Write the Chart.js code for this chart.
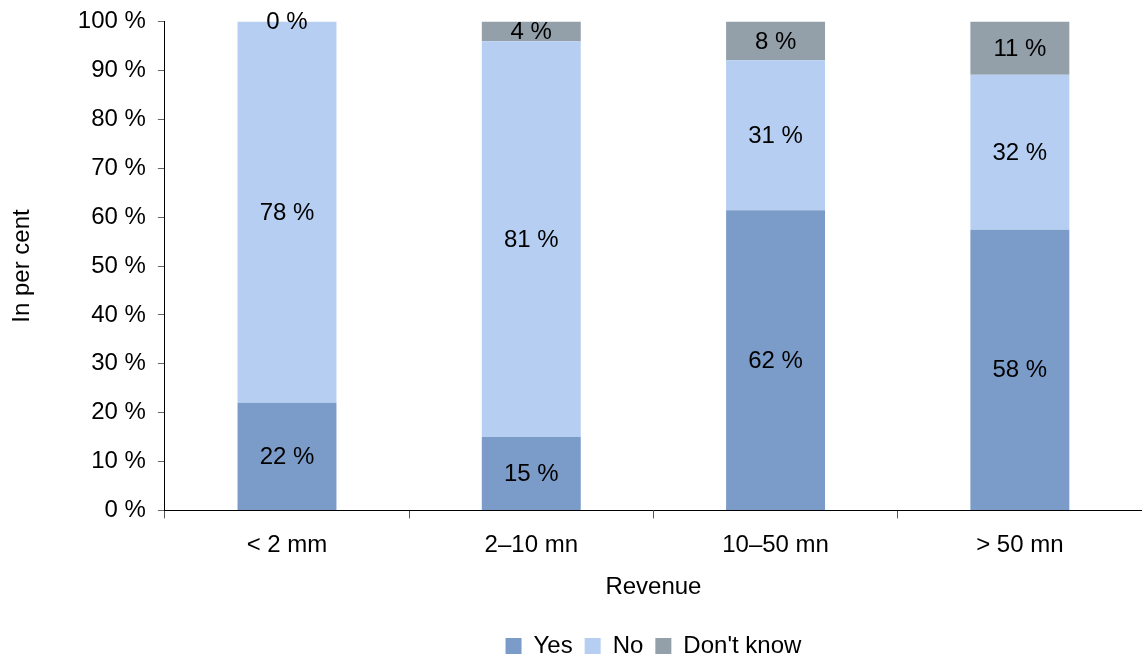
<!DOCTYPE html>
<html>
<head>
<meta charset="utf-8">
<script src="https://cdn.jsdelivr.net/npm/chart.js@4"></script>
<style>
  html, body { margin: 0; padding: 0; background: #fff; }
  #wrap { width: 1142px; height: 659px; }
</style>
</head>
<body>
<div id="wrap"><canvas id="stackChart"></canvas></div>
<script>
const categories = ["< 2 mm", "2\u201310 mn", "10\u201350 mn", "> 50 mn"]
// survey answers as printed on the bars (rounded, so some columns add up to 101)
const yesValues = [22, 15, 62, 58]
const noValues = [78, 81, 31, 32]
const dontKnowValues = [0, 4, 8, 11]
const yTicks = [0, 10, 20, 30, 40, 50, 60, 70, 80, 90, 100]

const FONT = "'Liberation Sans', Arial, sans-serif"
const FS = 24

// 100 % stacked: each column is scaled to its own total
const totals = categories.map((c, i) => yesValues[i] + noValues[i] + dontKnowValues[i])
const share = arr => arr.map((v, i) => v / totals[i] * 100)

const ctx = document.getElementById("stackChart").getContext("2d")

const segmentLabels = {
    id: 'segmentLabels',
    afterDatasetsDraw(chart) {
        const c = chart.ctx
        c.save()
        c.font = FS + "px " + FONT
        c.fillStyle = "#000"
        c.textAlign = "center"
        c.textBaseline = "middle"
        chart.data.datasets.forEach((ds, di) => {
            chart.getDatasetMeta(di).data.forEach((bar, i) => {
                const p = bar.getProps(['x', 'y', 'base'], true)
                c.fillText(ds.raw[i] + " %", p.x, (p.y + p.base) / 2 + 1)
            })
        })
        c.restore()
    }
}

// legend is centred under the plot, not the whole canvas
const legendUnderPlot = {
    id: 'legendUnderPlot',
    afterLayout(chart) {
        chart.legend.left = chart.chartArea.left
        chart.legend.right = chart.chartArea.right
    }
}

new Chart(ctx, {
    type: 'bar',
    data: {
        labels: categories,
        datasets: [
            { label: "Yes", data: share(yesValues), raw: yesValues, backgroundColor: "#7b9cc9" },
            { label: "No", data: share(noValues), raw: noValues, backgroundColor: "#b5cef2" },
            { label: "Don't know", data: share(dontKnowValues), raw: dontKnowValues, backgroundColor: "#939fa9" }
        ]
    },
    options: {
        responsive: true,
        maintainAspectRatio: false,
        animation: false,
        layout: { padding: { left: 8, right: 0, top: 3, bottom: -9 } },
        datasets: { bar: { categoryPercentage: 1, barPercentage: 0.405 } },
        plugins: {
            tooltip: { enabled: false },
            legend: {
                position: 'bottom',
                labels: {
                    font: { family: FONT, size: FS },
                    color: "#000",
                    boxWidth: 16,
                    boxHeight: 16,
                    padding: 12
                }
            }
        },
        scales: {
            x: {
                stacked: true,
                border: { color: "#000", width: 1 },
                grid: { drawOnChartArea: false, tickLength: 8, color: "#555", offset: true },
                ticks: { font: { family: FONT, size: FS }, color: "#000", padding: 13 },
                title: { display: true, text: "Revenue", font: { family: FONT, size: FS }, color: "#000", padding: { top: 0, bottom: 20 } }
            },
            y: {
                stacked: true,
                min: 0,
                max: 100,
                afterBuildTicks: axis => { axis.ticks = yTicks.map(v => ({ value: v })) },
                border: { color: "#000", width: 1 },
                grid: { drawOnChartArea: false, tickLength: 7, color: "#666" },
                ticks: {
                    font: { family: FONT, size: FS, lineHeight: 0.8 },
                    color: "#000",
                    padding: 12,
                    callback: v => v + " %"
                },
                title: { display: true, text: "In per cent", font: { family: FONT, size: FS }, color: "#000", padding: { top: 0, bottom: 29 } }
            }
        }
    },
    plugins: [segmentLabels, legendUnderPlot]
})
</script>
</body>
</html>
